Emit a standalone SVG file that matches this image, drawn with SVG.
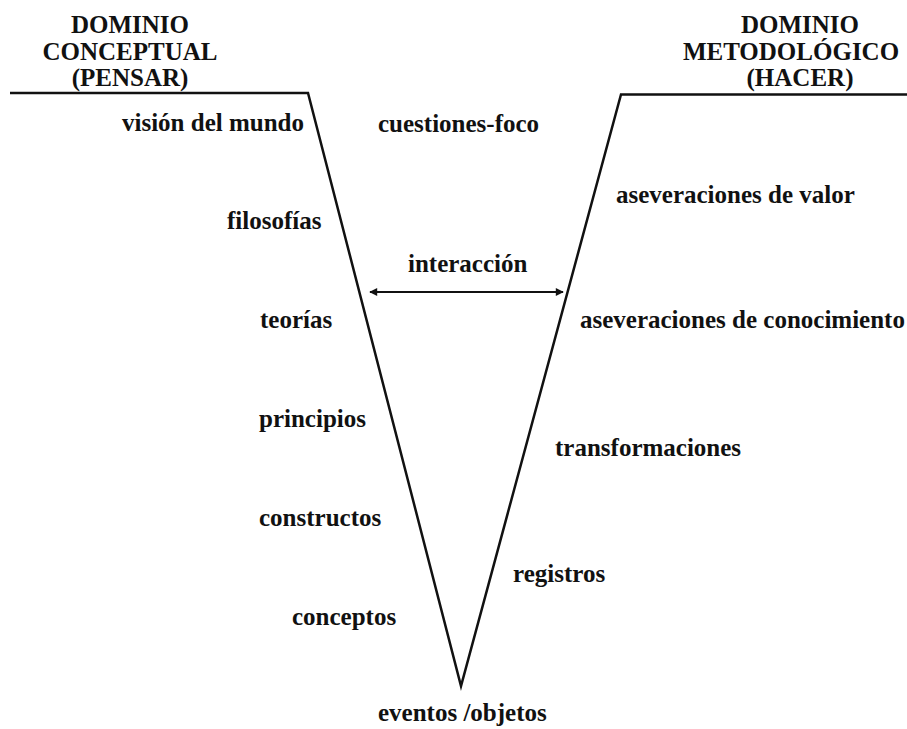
<svg xmlns="http://www.w3.org/2000/svg" width="907" height="729" viewBox="0 0 907 729">
<style>
.h{font-family:"Liberation Serif","Times New Roman",serif;font-weight:bold;font-size:25px;fill:#111;text-anchor:middle}
.t{font-family:"Liberation Serif","Times New Roman",serif;font-weight:bold;font-size:25px;fill:#111}
.ln{fill:none;stroke:#111;stroke-width:2.5;stroke-linejoin:miter}
.ar{stroke:#111;stroke-width:2;fill:none}
</style>
<defs>
<marker id="ah" viewBox="0 0 10 10" refX="9" refY="5" markerWidth="10" markerHeight="8" markerUnits="userSpaceOnUse" orient="auto-start-reverse">
<path d="M0,0 L10,5 L0,10 z" fill="#111"/>
</marker>
</defs>
<rect width="907" height="729" fill="#fff"/>
<g id="connectors">
<path id="vee" class="ln" d="M10,93 L308,93 L461,686 L621,94.5 L907,94.5"/>
<line id="interaccion-arrow" class="ar" x1="370" y1="292" x2="563" y2="292" marker-start="url(#ah)" marker-end="url(#ah)"/>
</g>
<g id="dominio-conceptual">
<text class="h" x="130" y="33">DOMINIO</text>
<text class="h" x="130" y="60">CONCEPTUAL</text>
<text class="h" x="130" y="86">(PENSAR)</text>
</g>
<g id="dominio-metodologico">
<text class="h" x="800" y="33">DOMINIO</text>
<text class="h" x="791" y="60">METODOLÓGICO</text>
<text class="h" x="800" y="86">(HACER)</text>
</g>
<g id="vision-del-mundo"><text class="t" x="122" y="131">visión del mundo</text></g>
<g id="filosofias"><text class="t" x="227" y="229">filosofías</text></g>
<g id="teorias"><text class="t" x="260" y="328">teorías</text></g>
<g id="principios"><text class="t" x="259" y="427">principios</text></g>
<g id="constructos"><text class="t" x="259" y="526">constructos</text></g>
<g id="conceptos"><text class="t" x="292" y="625">conceptos</text></g>
<g id="cuestiones-foco"><text class="t" x="378" y="132">cuestiones-foco</text></g>
<g id="interaccion"><text class="t" x="408" y="272">interacción</text></g>
<g id="eventos-objetos"><text class="t" x="378" y="721">eventos /objetos</text></g>
<g id="aseveraciones-valor"><text class="t" x="616" y="203">aseveraciones de valor</text></g>
<g id="aseveraciones-conocimiento"><text class="t" x="580" y="328">aseveraciones de conocimiento</text></g>
<g id="transformaciones"><text class="t" x="555" y="456">transformaciones</text></g>
<g id="registros"><text class="t" x="513" y="582">registros</text></g>
</svg>
